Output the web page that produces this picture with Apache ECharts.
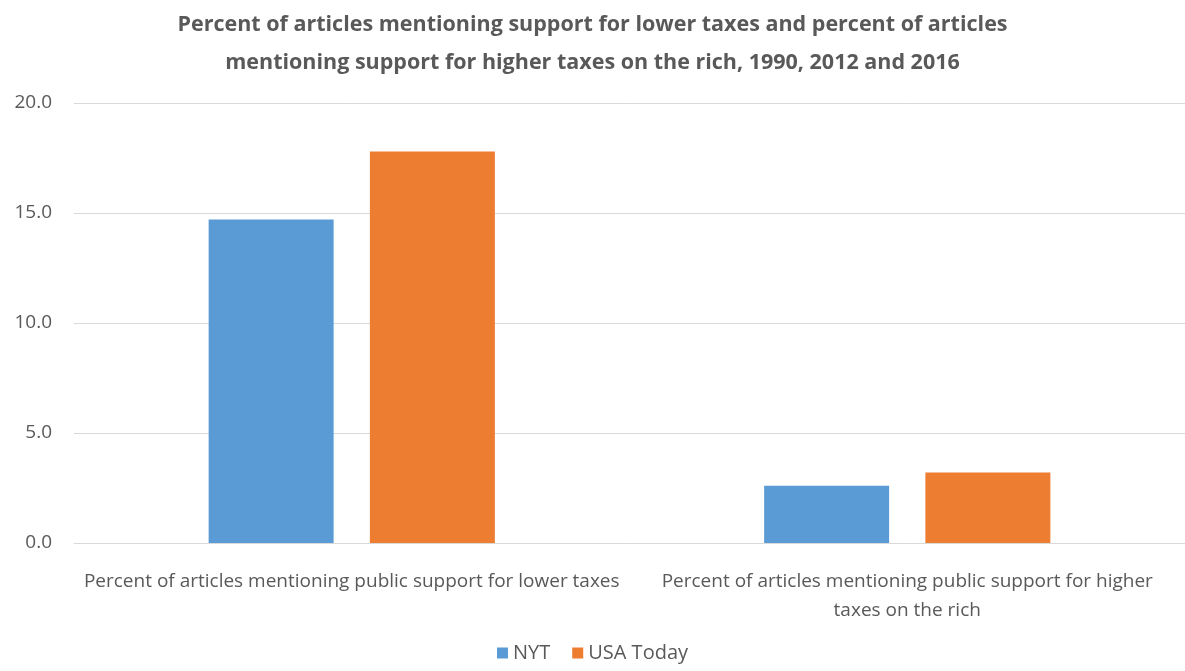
<!DOCTYPE html>
<html>
<head>
<meta charset="utf-8">
<script src="https://cdn.jsdelivr.net/npm/echarts@6/dist/echarts.min.js"></script>
<style>
  html, body { margin: 0; padding: 0; background: #fff; }
  #main { width: 1185px; height: 671px; }
</style>
</head>
<body>
<div id="main"></div>
<script>
var categories = [
  'Percent of articles mentioning public support for lower taxes',
  'Percent of articles mentioning public support for higher taxes on the rich'
];
var seriesNames = ['NYT', 'USA Today'];
var nytValues = [14.7, 2.6];
var usaTodayValues = [17.8, 3.2];
var yMin = 0, yMax = 20, yStep = 5;

var font = '"Open Sans", sans-serif';

// wrap long category names by words, max chars per line
function wrapWords(str, maxChars) {
  var words = str.split(' ');
  var lines = [], cur = '';
  words.forEach(function (w) {
    if (cur && (cur + ' ' + w).length > maxChars) {
      lines.push(cur);
      cur = w;
    } else {
      cur = cur ? cur + ' ' + w : w;
    }
  });
  if (cur) lines.push(cur);
  return lines.join('\n');
}

var chart = echarts.init(document.getElementById('main'));
var option = {
  backgroundColor: '#fff',
  animation: false,
  title: {
    text: 'Percent of articles mentioning support for lower taxes and percent of articles\nmentioning support for higher taxes on the rich, 1990, 2012 and 2016',
    left: 'center',
    top: 1,
    textStyle: {
      fontFamily: font,
      fontSize: 21.5,
      fontWeight: 'bold',
      color: '#595959',
      lineHeight: 38
    }
  },
  legend: {
    data: seriesNames,
    bottom: 3,
    left: 'center',
    icon: 'rect',
    itemWidth: 11,
    itemHeight: 11,
    itemGap: 22,
    textStyle: { fontFamily: font, fontSize: 20, color: '#595959' }
  },
  grid: { left: 74, right: 0, top: 103, bottom: 128 },
  xAxis: {
    type: 'category',
    data: categories,
    axisLine: { lineStyle: { color: '#d9d9d9', width: 1 } },
    axisTick: { show: false },
    axisLabel: {
      fontFamily: font,
      fontSize: 19,
      color: '#595959',
      margin: 24,
      lineHeight: 29,
      interval: 0,
      formatter: function (v) { return wrapWords(v, 61); }
    }
  },
  yAxis: {
    type: 'value',
    min: yMin,
    max: yMax,
    interval: yStep,
    axisLine: { show: false },
    axisTick: { show: false },
    splitLine: { lineStyle: { color: '#d9d9d9', width: 1 } },
    axisLabel: {
      fontFamily: font,
      fontSize: 19,
      color: '#595959',
      margin: 22,
      formatter: function (v) { return v.toFixed(1); }
    }
  },
  series: [
    {
      name: seriesNames[0],
      type: 'bar',
      data: nytValues,
      barWidth: '22.5%',
      barGap: '29%',
      itemStyle: { color: '#5b9bd5' }
    },
    {
      name: seriesNames[1],
      type: 'bar',
      data: usaTodayValues,
      barWidth: '22.5%',
      barGap: '29%',
      itemStyle: { color: '#ed7d31' }
    }
  ]
};
chart.setOption(option);
</script>
</body>
</html>
